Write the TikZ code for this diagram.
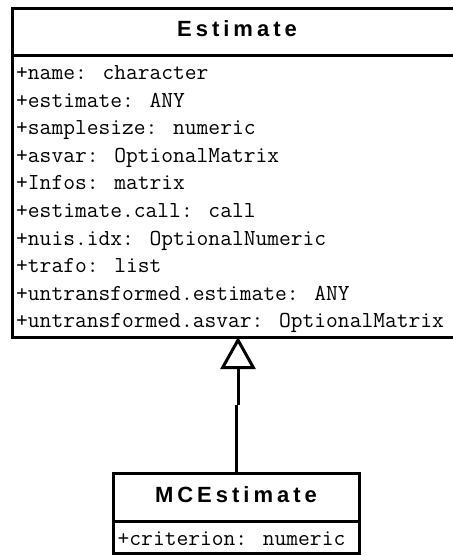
\documentclass[tikz,border=0pt]{standalone}
\usepackage{fontspec}
\newfontfamily\titlefnt{Liberation Sans}
\usetikzlibrary{arrows.meta}
\newcommand\lsp{\kern4pt}
\begin{document}
\begin{tikzpicture}[x=1pt,y=-1pt,
  cls/.style={draw, line width=3pt, inner sep=0pt, outer sep=0pt, anchor=north west},
  sepline/.style={line width=3pt},
  attr/.style={anchor=base west, inner sep=0pt, font=\ttfamily\fontsize{22.86pt}{26pt}\selectfont},
  ttl/.style={anchor=base, inner sep=0pt, font=\titlefnt\bfseries\fontsize{22pt}{26pt}\selectfont},
  inherit/.style={-{Triangle[open,length=32pt,width=35pt]}, line width=3pt},
  link/.style={line width=3pt}]
\useasboundingbox (0,0) rectangle (452,556);
% class Estimate
\node[cls, minimum width=451pt, minimum height=328pt] (est) at (12,9) {};
\draw[sepline] ([yshift=-47pt]est.north west) -- ([yshift=-47pt]est.north east);
\node[ttl] (estT) at (237,37) {E\lsp s\lsp t\lsp i\lsp m\lsp a\lsp t\lsp e};
\foreach \t [count=\i from 0] in {+name: character,+estimate: ANY,+samplesize: numeric,+asvar: OptionalMatrix,+Infos: matrix,+estimate.call: call,+nuis.idx: OptionalNumeric,+trafo: list,+untransformed.estimate: ANY,+untransformed.asvar: OptionalMatrix}
  \node[attr] (a\i) at (16,79.5+27.6*\i) {\t};
% class MCEstimate
\node[cls, minimum width=246pt, minimum height=80pt] (mce) at (113,473) {};
\draw[sepline] ([yshift=-48pt]mce.north west) -- ([yshift=-48pt]mce.north east);
\node[ttl] (mceT) at (236,502) {M\lsp C\lsp E\lsp s\lsp t\lsp i\lsp m\lsp a\lsp t\lsp e};
\node[attr] (b0) at (117.5,545) {+criterion: numeric};
% generalization
\path (mce.north) ++(0,-68) coordinate (j1);
\draw[link] (mce.north) -- (j1);
\draw[inherit] ([xshift=2pt]j1) -- ([xshift=2pt]j1 |- est.south);
\end{tikzpicture}
\end{document}
